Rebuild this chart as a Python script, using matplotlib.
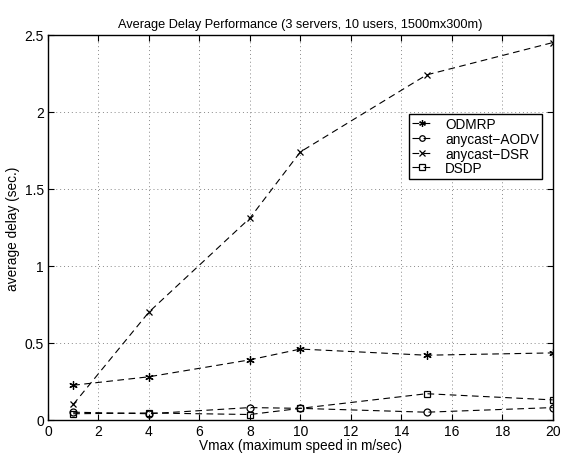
import matplotlib
matplotlib.use("Agg")
import matplotlib.pyplot as plt

plt.rcParams['font.family'] = ['Liberation Sans', 'DejaVu Sans']

vmax = [1, 4, 8, 10, 15, 20]
odmrp = [0.225, 0.28, 0.39, 0.46, 0.42, 0.435]
aodv = [0.05, 0.04, 0.08, 0.075, 0.05, 0.08]
dsr = [0.10, 0.70, 1.31, 1.74, 2.24, 2.45]
dsdp = [0.04, 0.045, 0.035, 0.075, 0.17, 0.13]

fig = plt.figure(figsize=(5.71, 4.6), dpi=100)
ax = fig.add_axes([0.084, 0.085, 0.884, 0.837])

asterisk = (6, 2, 0)
ax.plot(vmax, odmrp, 'k--', marker=asterisk, lw=0.8, ms=6, mew=0.9, dashes=(6, 4), label='ODMRP')
ax.plot(vmax, aodv, 'k--o', lw=0.8, ms=5, mew=0.9, mfc='none', dashes=(6, 4), label='anycast\u2212AODV')
ax.plot(vmax, dsr, 'k--x', lw=0.8, ms=5, mew=0.9, dashes=(6, 4), label='anycast\u2212DSR')
ax.plot(vmax, dsdp, 'k--s', lw=0.8, ms=5, mew=0.9, mfc='none', dashes=(6, 4), label='DSDP')

ax.set_xlim(0, 20)
ax.set_ylim(0, 2.5)
ax.set_xticks(range(0, 21, 2))
ax.set_yticks([0, 0.5, 1, 1.5, 2, 2.5])
ax.set_yticklabels(['0', '0.5', '1', '1.5', '2', '2.5'])
ax.tick_params(direction='in', top=True, right=True, labelsize=10, length=4, pad=3)
ax.grid(True, color='#888888', linestyle=(0, (1, 3)), linewidth=0.7)
for s in ax.spines.values():
    s.set_linewidth(1.0)

ax.set_xlabel('Vmax (maximum speed in m/sec)', fontsize=9.8, labelpad=0)
ax.set_ylabel('average delay (sec.)', fontsize=9.8, labelpad=3)
ax.set_title('Average Delay Performance (3 servers, 10 users, 1500mx300m)', fontsize=9.2, pad=6)

leg = ax.legend(loc='upper left', bbox_to_anchor=(0.715, 0.795), fontsize=9.8,
                frameon=True, fancybox=False, edgecolor='black', framealpha=1,
                handlelength=1.5, handletextpad=0.9, borderpad=0.25, labelspacing=0.05,
                borderaxespad=0, markerscale=0.8)
leg.get_frame().set_linewidth(1.0)

fig.savefig('out.png', dpi=100)
